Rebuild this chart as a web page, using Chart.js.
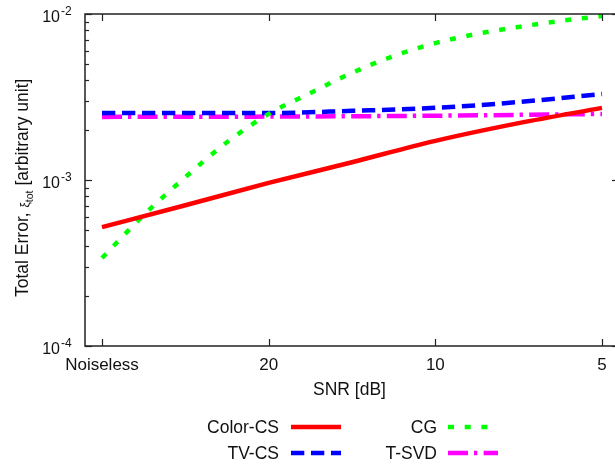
<!DOCTYPE html>
<html>
<head>
<meta charset="utf-8">
<script src="https://cdn.jsdelivr.net/npm/chart.js@4.4.1/dist/chart.umd.min.js"></script>
<style>
  html, body { margin: 0; padding: 0; overflow: hidden; background: #fff; }
  #wrap { position: relative; width: 625px; height: 474px; }
</style>
</head>
<body>
<div id="wrap"><canvas id="c"></canvas></div>
<script>
// SNR axis: evenly spaced levels, tick labels at positions 0..3
const snrTicks = [0, 1, 2, 3];
const snrLabels = ['Noiseless', '20', '10', '5'];

// sample positions along the SNR axis
const coarseX = [0, 0.5, 1, 1.5, 2, 2.5, 3];
const fineX = [0, 0.25, 0.5, 0.75, 1, 1.25, 1.5, 1.75, 2, 2.25, 2.5, 2.75, 3];
const svdX = [0, 1, 2, 3];

// total error per method
const colorCS = [5.2e-4, 7.05e-4, 9.6e-4, 1.28e-3, 1.72e-3, 2.2e-3, 2.72e-3];
const tvCS = [2.53e-3, 2.53e-3, 2.53e-3, 2.61e-3, 2.72e-3, 2.95e-3, 3.3e-3];
const cg = [3.39e-4, 6.15e-4, 1.04e-3, 1.69e-3, 2.5e-3, 3.34e-3, 4.42e-3,
            5.58e-3, 6.68e-3, 7.59e-3, 8.36e-3, 9.08e-3, 9.72e-3];
const tSVD = [2.40e-3, 2.41e-3, 2.44e-3, 2.50e-3];

const seriesNames = ['Color-CS', 'CG', 'TV-CS', 'T-SVD'];

const FONT = "'Liberation Sans', Arial, Helvetica, sans-serif";

const pts = (xs, ys) => xs.map((v, i) => ({ x: v, y: ys[i] }));

function lineStyle(color, dash) {
  return {
    borderColor: color,
    backgroundColor: color,
    borderWidth: 4.5,
    borderDash: dash,
    borderCapStyle: 'butt',
    pointRadius: 0,
    pointHoverRadius: 0,
    fill: false,
    cubicInterpolationMode: 'monotone'
  };
}

const datasets = [
  Object.assign({ label: seriesNames[0], data: pts(coarseX, colorCS) }, lineStyle('#ff0000', [])),
  Object.assign({ label: seriesNames[1], data: pts(fineX, cg) }, lineStyle('#00ff00', [6, 10.7])),
  Object.assign({ label: seriesNames[2], data: pts(coarseX, tvCS) }, lineStyle('#0000ff', [13.3, 6.7])),
  Object.assign({ label: seriesNames[3], data: pts(svdX, tSVD) }, lineStyle('#ff00ff', [20, 6, 3.3, 6.3]))
];

function seg(ctx, x1, y1, x2, y2) {
  ctx.beginPath(); ctx.moveTo(x1, y1); ctx.lineTo(x2, y2); ctx.stroke();
}

// frame, inward ticks, tick labels, axis titles and key
const decorations = {
  id: 'decorations',
  afterDraw(chart) {
    const { ctx, chartArea: a, scales } = chart;
    const xs = scales.x, ys = scales.y;
    ctx.save();

    // frame
    ctx.strokeStyle = '#222';
    ctx.lineWidth = 1.5;
    ctx.strokeRect(a.left, a.top, a.right - a.left, a.bottom - a.top);

    // x ticks (bottom and mirrored top)
    ctx.lineWidth = 1.2;
    snrTicks.forEach(v => {
      const px = Math.round(xs.getPixelForValue(v)) + 0.5;
      seg(ctx, px, a.bottom, px, a.bottom - 7);
      seg(ctx, px, a.top, px, a.top + 7);
    });

    // y ticks, decades and minor steps
    for (let e = -4; e <= -2; e++) {
      for (let m = 1; m <= 9; m++) {
        const v = m * Math.pow(10, e);
        if (v > ys.max * 1.0001) break;
        const py = Math.round(ys.getPixelForValue(v)) + 0.5;
        const len = m === 1 ? 7 : 4;
        seg(ctx, a.left, py, a.left + len, py);
        seg(ctx, a.right, py, a.right - len, py);
      }
    }

    ctx.fillStyle = '#111';
    // x tick labels
    ctx.font = '17px ' + FONT;
    ctx.textAlign = 'center';
    ctx.textBaseline = 'alphabetic';
    snrTicks.forEach((v, i) => {
      ctx.fillText(snrLabels[i], xs.getPixelForValue(v), 370);
    });

    // y tick labels 10^n
    for (let e = -4; e <= -2; e++) {
      const py = ys.getPixelForValue(Math.pow(10, e));
      ctx.font = '16px ' + FONT;
      ctx.textAlign = 'right';
      ctx.fillText('10', 60, py + 8);
      ctx.font = '12px ' + FONT;
      ctx.textAlign = 'left';
      ctx.fillText(String(e), 61, py + 1);
    }

    // x title
    ctx.font = '17.5px ' + FONT;
    ctx.textAlign = 'center';
    ctx.fillText('SNR [dB]', (a.left + 614) / 2, 395);

    // y title, rotated, with subscript
    ctx.save();
    ctx.translate(28, 297);
    ctx.rotate(-Math.PI / 2);
    ctx.textAlign = 'left';
    let cx = 0;
    ctx.font = '17.5px ' + FONT;
    const t1 = 'Total Error, ';
    ctx.fillText(t1, cx, 0); cx += ctx.measureText(t1).width;
    ctx.font = '12px ' + FONT;
    ctx.fillText('\u03BE', cx, 1); cx += ctx.measureText('\u03BE').width;
    ctx.font = '10.5px ' + FONT;
    ctx.fillText('tot', cx, 5); cx += ctx.measureText('tot').width;
    ctx.font = '17.5px ' + FONT;
    ctx.fillText(' [arbitrary unit]', cx, 0);
    ctx.restore();

    // key: label on the left, line sample on the right
    const key = [
      { ds: 0, right: 279, x0: 291, y: 427 },
      { ds: 1, right: 437, x0: 448, y: 427 },
      { ds: 2, right: 279, x0: 291, y: 453 },
      { ds: 3, right: 437, x0: 448, y: 453 }
    ];
    key.forEach(k => {
      const d = chart.data.datasets[k.ds];
      ctx.fillStyle = '#111';
      ctx.font = '17.5px ' + FONT;
      ctx.textAlign = 'right';
      ctx.fillText(d.label, k.right, k.y + 6);
      ctx.strokeStyle = d.borderColor;
      ctx.lineWidth = d.borderWidth;
      ctx.lineCap = 'butt';
      ctx.setLineDash(d.borderDash || []);
      seg(ctx, k.x0, k.y, k.x0 + 50, k.y);
      ctx.setLineDash([]);
    });

    ctx.restore();
  }
};

new Chart(document.getElementById('c'), {
  type: 'line',
  data: { datasets },
  options: {
    responsive: true,
    maintainAspectRatio: false,
    animation: false,
    events: [],
    layout: { padding: { left: 0, top: 14, right: 6, bottom: 0 } },
    plugins: { legend: { display: false }, tooltip: { enabled: false } },
    scales: {
      x: {
        type: 'linear',
        min: -0.102,
        max: 3.102,
        grid: { display: false },
        border: { display: false },
        ticks: { display: false },
        afterFit(s) { s.height = 128; }
      },
      y: {
        type: 'logarithmic',
        min: 1e-4,
        max: 1e-2,
        grid: { display: false },
        border: { display: false },
        ticks: { display: false },
        afterFit(s) { s.width = 85; }
      }
    }
  },
  plugins: [decorations]
});
</script>
</body>
</html>
